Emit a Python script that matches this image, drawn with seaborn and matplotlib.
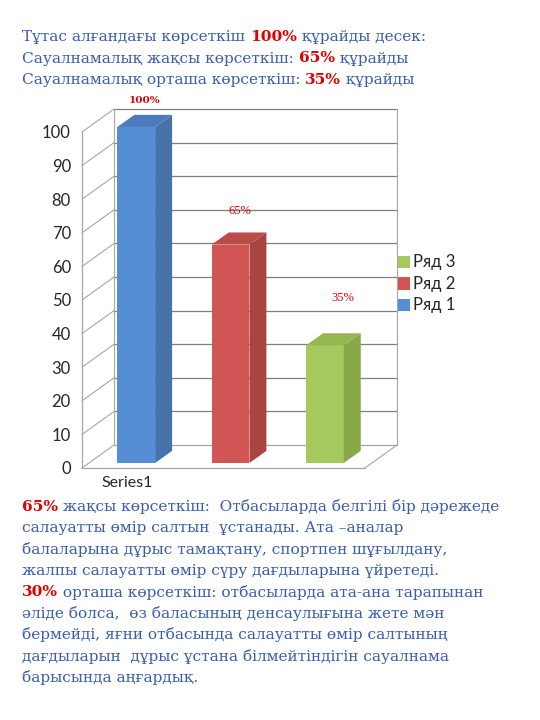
import matplotlib
matplotlib.use("Agg")
import matplotlib.pyplot as plt
import pandas as pd
import seaborn as sns
from matplotlib.patches import Polygon

# data
series = ["Ряд 1", "Ряд 2", "Ряд 3"]
values = [100, 65, 35]
value_labels = ["100%", "65%", "35%"]
category = "Series1"
yticks = [0, 10, 20, 30, 40, 50, 60, 70, 80, 90, 100]

front_colors = ["#558ED5", "#D05554", "#A6C95F"]
side_colors = ["#4672AA", "#A84442", "#88A84A"]
top_colors = ["#4A7BBB", "#B94B49", "#96B652"]

title_lines = [
    [("Тұтас алғандағы көрсеткіш ", False), ("100%", True), (" құрайды десек:", False)],
    [("Сауалнамалық жақсы көрсеткіш: ", False), ("65%", True), (" құрайды", False)],
    [("Сауалнамалық орташа көрсеткіш: ", False), ("35%", True), (" құрайды", False)],
]
body_lines = [
    [("65%", True), (" жақсы көрсеткіш:  Отбасыларда белгілі бір дәрежеде", False)],
    [("салауатты өмір салтын  ұстанады. Ата –аналар", False)],
    [("балаларына дұрыс тамақтану, спортпен шұғылдану,", False)],
    [("жалпы салауатты өмір сүру дағдыларына үйретеді.", False)],
    [("30%", True), (" орташа көрсеткіш: отбасыларда ата-ана тарапынан", False)],
    [("әліде болса,  өз баласының денсаулығына жете мән", False)],
    [("бермейді, яғни отбасында салауатты өмір салтының", False)],
    [("дағдыларын  дұрыс ұстана білмейтіндігін сауалнама", False)],
    [("барысында аңғардық.", False)],
]

df = pd.DataFrame({"series": series, "value": values})

sns.set_style("white")
plt.rcParams["font.family"] = ["Lato", "DejaVu Sans"]

fig = plt.figure(figsize=(5.4, 7.2), dpi=100)
W, H = 540, 720
ax = fig.add_axes([82 / W, (720 - 468) / H, 283 / W, 336 / H])

sns.barplot(data=df, x="series", y="value", hue="series", palette=front_colors,
            dodge=False, width=0.4, legend=False, ax=ax, saturation=1)

ax.set_xlim(-0.5, 2.5)
ax.set_ylim(0, 100)

# depth offsets (data units)
wall_dx, wall_dy = 0.34, 6.85
bar_dx, bar_dy = 0.075, 1.5
side_dx, side_dy = 0.18, 3.6

grid_c = "#7F7F7F"
wall_c = "#A6A6A6"
x0, x1 = ax.get_xlim()
for t in yticks:
    # back wall gridline
    ax.plot([x0 + wall_dx, x1 + wall_dx], [t + wall_dy, t + wall_dy],
            color=grid_c if t > 0 else wall_c, lw=0.9, clip_on=False, zorder=0)
    # side wall line
    ax.plot([x0, x0 + wall_dx], [t, t + wall_dy], color=wall_c, lw=0.8,
            clip_on=False, zorder=0)
ax.plot([x0 + wall_dx, x0 + wall_dx], [wall_dy, 100 + wall_dy], color=wall_c, lw=0.8, clip_on=False, zorder=0)
ax.plot([x1 + wall_dx, x1 + wall_dx], [wall_dy, 100 + wall_dy], color=wall_c, lw=0.8, clip_on=False, zorder=0)
ax.plot([x0, x1], [0, 0], color=wall_c, lw=0.9, clip_on=False, zorder=0)
ax.plot([x1, x1 + wall_dx], [0, wall_dy], color=wall_c, lw=0.8, clip_on=False, zorder=0)
ax.plot([x0, x0], [0, 100], color=wall_c, lw=0.9, clip_on=False, zorder=0)

# give bars a 3d look
for p, sc, tc in zip(ax.patches, side_colors, top_colors):
    p.set_x(p.get_x() + bar_dx)
    p.set_y(bar_dy)
    p.set_zorder(3)
    p.set_edgecolor("none")
    p.set_clip_on(False)
    bx, bw, bh = p.get_x(), p.get_width(), p.get_height()
    top = bar_dy + bh
    side = Polygon([(bx + bw, bar_dy), (bx + bw + side_dx, bar_dy + side_dy),
                    (bx + bw + side_dx, top + side_dy), (bx + bw, top)],
                   closed=True, facecolor=sc, edgecolor="none", zorder=3, clip_on=False)
    cap = Polygon([(bx, top), (bx + bw, top), (bx + bw + side_dx, top + side_dy),
                   (bx + side_dx, top + side_dy)],
                  closed=True, facecolor=tc, edgecolor="none", zorder=3, clip_on=False)
    ax.add_patch(side)
    ax.add_patch(cap)

# value labels
label_dx = [0.16, 0.17, 0.27]
label_dy = [9.5, 11.5, 15.6]
label_bold = [True, False, False]
for i, (v, lab) in enumerate(zip(values, value_labels)):
    ax.text(i + label_dx[i], v + label_dy[i], lab, color="#E00000",
            fontsize=7.5 if label_bold[i] else 9,
            fontweight="bold" if label_bold[i] else "normal",
            family="DejaVu Serif" if label_bold[i] else "Liberation Serif",
            ha="center", va="center", clip_on=False)

sns.despine(ax=ax, left=True, bottom=True)
ax.set_yticks(yticks)
ax.set_yticklabels([str(t) for t in yticks], fontsize=12)
ax.tick_params(axis="y", length=0, pad=8)
ax.set_xticks([-0.02])
ax.set_xticklabels([category], fontsize=11.5)
ax.tick_params(axis="x", length=0, pad=6)
ax.set_xlabel("")
ax.set_ylabel("")
ax.grid(False)
ax.patch.set_alpha(0)

# legend (reverse order)
for k, (name, c) in enumerate(zip(series[::-1], front_colors[::-1])):
    yy = 1 - (262 + k * 21.5) / H
    fig.patches.append(plt.Rectangle((398 / W, yy - 6 / H), 12 / W, 12 / H,
                                     transform=fig.transFigure, facecolor=c,
                                     edgecolor="none", figure=fig))
    fig.text(413 / W, yy, name, fontsize=12, va="center", ha="left")

# text blocks
blue = "#3A5DAE"
red = "#E00000"
serif = "DejaVu Serif"
fs = 11.1


def draw_line(y_px, parts):
    x = 22 / W
    renderer = fig.canvas.get_renderer()
    for txt, hot in parts:
        t = fig.text(x, 1 - y_px / H, txt, fontsize=fs, family=serif,
                     color=red if hot else blue,
                     fontweight="bold" if hot else "normal", va="center", ha="left")
        bb = t.get_window_extent(renderer=renderer)
        x += bb.width / fig.bbox.width


for i, parts in enumerate(title_lines):
    draw_line(37 + i * 21.5, parts)
for i, parts in enumerate(body_lines):
    draw_line(507 + i * 21.3, parts)

fig.savefig("out.png", dpi=100)
